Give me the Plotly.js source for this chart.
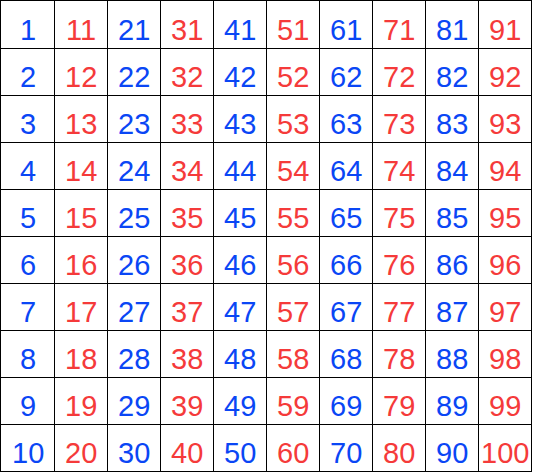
<!DOCTYPE html>
<html><head><script src="https://cdn.plot.ly/plotly-3.0.1.min.js"></script>
<style>body{margin:0}</style></head><body><div id="c" style="width:533px;height:473px"></div>
<script>
const columns = [0,1,2,3,4,5,6,7,8,9];
const rows = [0,1,2,3,4,5,6,7,8,9];
const colors = ['#0a46f5','#f53a3a'];
const annotations = [];
columns.forEach(c => rows.forEach(r => {
  annotations.push({x: c + 0.5, y: r + 0.5, xref: 'x', yref: 'y', text: String(c*10 + r + 1),
    showarrow: false, yshift: -5, font: {family: 'Liberation Sans, Arial', size: 29, color: colors[c % 2]}});
}));
const ax = {range: [0, 10], dtick: 1, tick0: 0, showgrid: true, gridcolor: '#000', gridwidth: 1,
  showline: true, mirror: true, linecolor: '#000', linewidth: 1, showticklabels: false, ticks: '', zeroline: false, fixedrange: true};
Plotly.newPlot('c', [{x: [], y: [], type: 'scatter'}], {
  width: 533, height: 473, margin: {l: 1, r: 2, t: 1, b: 2},
  paper_bgcolor: '#fff', plot_bgcolor: '#fff', showlegend: false,
  xaxis: ax, yaxis: Object.assign({}, ax, {autorange: false, range: [10, 0]}),
  annotations: annotations
}, {staticPlot: true});
</script></body></html>
